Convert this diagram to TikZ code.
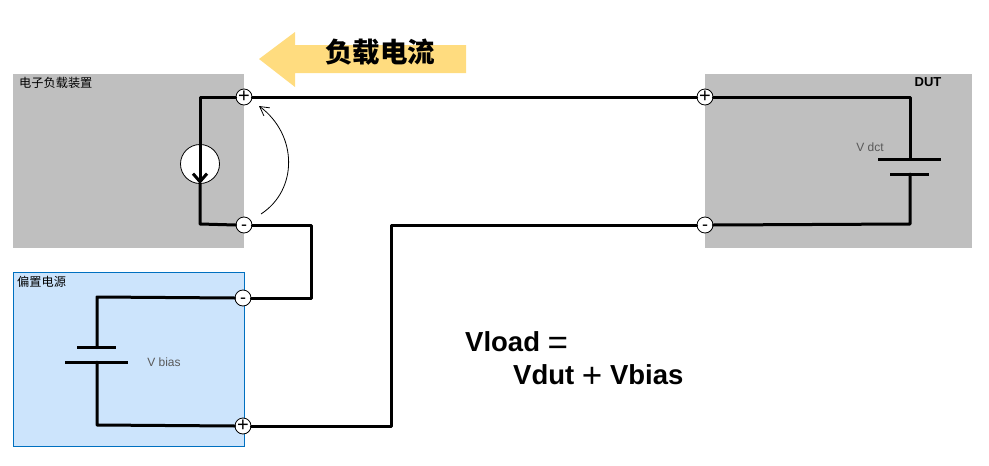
\documentclass[tikz,border=0pt]{standalone}
\usepackage{fontspec}
\setmainfont{Liberation Sans}
\newfontfamily\cjk{Noto Sans CJK SC}
\usetikzlibrary{positioning, arrows.meta}
\definecolor{boxgray}{HTML}{BFBFBF}
\definecolor{biasblue}{HTML}{CCE4FC}
\definecolor{biasline}{HTML}{0070C0}
\definecolor{flowyellow}{HTML}{FFDC7F}
\definecolor{labelgray}{HTML}{595959}
\newcommand{\thinsign}[1]{\raisebox{-3pt}{\mdseries\fontsize{35}{35}\selectfont #1}}
\tikzset{
terminal/.style={draw=black, fill=white, circle, inner sep=0, minimum size=16pt, line width=0.8pt},
plussign/.style={font=\fontsize{20}{20}\selectfont, inner sep=0},
minussign/.style={font=\fontsize{18}{18}\selectfont, inner sep=0, yshift=-2.5pt},
wire/.style={line width=3pt, line cap=round, line join=round},
plate/.style={line width=3pt},
smalllabel/.style={font=\cjk\fontsize{12.2}{12.2}\selectfont, text=black, inner sep=0, anchor=west},
vlabel/.style={font=\fontsize{12}{12}\selectfont, text=labelgray, inner sep=0},
formula/.style={font=\bfseries\fontsize{27.5}{27.5}\selectfont, inner sep=0, anchor=base west},
}

\begin{document}
\begin{tikzpicture}[x=1pt, y=-1pt]
            \useasboundingbox (0,0) rectangle (989,466);
            % blocks
            \fill[boxgray] (13,74) rectangle (244,248);
            \fill[boxgray] (705,74) rectangle (972,248);
            \draw[fill=biasblue, draw=biasline, line width=1pt] (13.5,272.5) rectangle (244.5,446);
            % load current arrow
            \fill[flowyellow] (259,59)--(295,32)--(295,45)--(466,45)--(466,73)--(295,73)--(295,87)--cycle;
            \node[font=\cjk\bfseries\fontsize{27.5}{27.5}\selectfont, inner sep=0] (flowtext) at (380,52) {负载电流};
            % titles
            \node[smalllabel] (loadtitle) at (19,83) {电子负载装置};
            \node[smalllabel] (biastitle) at (17,282) {偏置电源};
            \node[font=\bfseries\fontsize{13}{13}\selectfont, inner sep=0] (duttitle) at (928,82) {DUT};
            \node[vlabel] (vdut) at (870,147) {V dct};
            \node[vlabel] (vbias) at (164,362) {V bias};
            % terminals
            \node[terminal] (lp) at (244,97) {};
            \node[terminal] (lm) at (244,225) {};
            \node[terminal] (bm) at (243,298) {};
            \node[terminal] (bp) at (243,426) {};
            \node[terminal] (dp) at (705,97) {};
            \node[terminal] (dm) at (705,225) {};
            \node[plussign] (lpsign) at (lp) {+};
            \node[plussign] (bpsign) at (bp) {+};
            \node[plussign] (dpsign) at (dp) {+};
            \node[minussign] (lmsign) at (lm) {-};
            \node[minussign] (bmsign) at (bm) {-};
            \node[minussign] (dmsign) at (dm) {-};
            % current source
            \node[draw=black, fill=white, circle, inner sep=0, minimum size=39pt, line width=0.8pt] (src) at (200,164) {};
            \coordinate (srctop) at (200,97);
            \coordinate (srcbot) at (200,224);
            \draw[wire] (lp.west)--(srctop)--(src.north);
            \draw[line width=3pt, -{Straight Barb[length=8pt, width=14pt, line width=3pt]}] (src.north)--(src.south);
            \draw[wire] (src.south)--(srcbot)--(lm.west);
            % battery of the bias supply
            \coordinate (bt) at (97,297);
            \coordinate (bb) at (97,425);
            \coordinate (bplateA) at (97,347.5);
            \coordinate (bplateB) at (97,362);
            \draw[plate] (77,347.5)--(116,347.5);
            \draw[plate] (65,362)--(128,362);
            \draw[wire] (bm.west)--(bt)--(bplateA);
            \draw[wire] (bplateB)--(bb)--(bp.west);
            % battery of the DUT
            \coordinate (dt) at (910,97);
            \coordinate (db) at (910,224);
            \coordinate (dplateA) at (910,159);
            \coordinate (dplateB) at (910,174);
            \draw[plate] (878,159)--(941,159);
            \draw[plate] (890,174)--(929,174);
            \draw[wire] (dp.east)--(dt)--(dplateA);
            \draw[wire] (dplateB)--(db)--(dm.east);
            % outer wires
            \coordinate (jA) at (311,225);
            \coordinate (jB) at (311,298);
            \coordinate (jC) at (391,426);
            \coordinate (jD) at (391,225);
            \draw[wire] (lp.east)--(dp.west);
            \draw[wire] (lm.east)--(jA)--(jB)--(bm.east);
            \draw[wire] (bp.east)--(jC)--(jD)--(dm.west);
            % voltage arc
            \coordinate (arcstart) at (261,214);
            \coordinate (arcend) at (259,106);
            \draw[line width=0.8pt, -{Straight Barb[length=9pt, width=10pt]}] (arcstart) .. controls (298,190) and (298,135) .. (arcend);
            % formula
            \node[formula] (eqa) at (465,351.5) {Vload \thinsign{=}};
            \node[formula] (eqb) at (513,384.5) {Vdut \thinsign{+} Vbias};
        \end{tikzpicture}
\end{document}
